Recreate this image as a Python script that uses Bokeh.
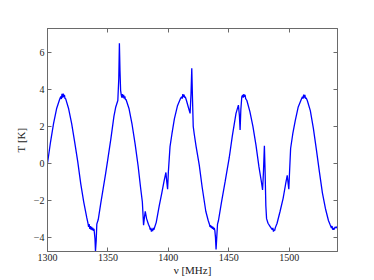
from bokeh.plotting import figure
from bokeh.models import Range1d, FixedTicker, LinearAxis, CustomJSTickFormatter
from bokeh.embed import file_html
from bokeh.resources import INLINE

# ---- data (frequency in MHz, temperature in K) ----
nu_1 = [1300, 1302.5, 1305, 1307.5, 1310, 1311, 1311.5, 1312, 1312.5, 1313, 1313.5, 1314, 1314.5,
        1315, 1317.5, 1320, 1322.5, 1325, 1327.5, 1330, 1332.5, 1333.5, 1334, 1334.5, 1335, 1335.5,
        1336, 1336.5, 1337, 1337.5, 1338, 1338.5, 1339.3, 1339.7, 1340.3, 1340.8, 1342]
t_1 = [0.0, 1.15, 2.15, 2.95, 3.45, 3.62, 3.48, 3.76, 3.55, 3.78, 3.58, 3.7, 3.5,
       3.5, 2.95, 2.15, 1.15, 0.1, -1.1, -2.1, -2.95, -3.25, -3.45, -3.3, -3.55, -3.4,
       -3.6, -3.45, -3.62, -3.5, -3.66, -3.55, -4.1, -4.77, -4.2, -3.3, -3.05]

nu_2 = [1344, 1346, 1348, 1350, 1352.5, 1355, 1356.5, 1358.2, 1359.0, 1359.5, 1360.0, 1360.5, 1361,
        1361.5, 1362, 1362.5, 1363, 1363.5, 1364, 1364.5, 1365, 1367.5, 1370, 1372.5, 1375, 1377,
        1378.5, 1379.5, 1380.3, 1380.9, 1382, 1383.5, 1384.5, 1385, 1385.5, 1386, 1386.5, 1387,
        1387.5, 1388, 1390, 1392.5, 1394.5, 1396.5, 1398, 1398.7, 1399.4]
t_2 = [-2.2, -1.4, -0.6, 0.25, 1.35, 2.55, 3.05, 3.4, 4.6, 6.5, 5.0, 3.95, 3.72,
       3.55, 3.75, 3.55, 3.7, 3.5, 3.62, 3.45, 3.45, 2.95, 2.1, 1.05, -0.15, -1.3,
       -2.1, -3.35, -2.9, -2.6, -3.0, -3.3, -3.45, -3.6, -3.5, -3.7, -3.55, -3.68,
       -3.5, -3.6, -3.2, -2.3, -1.65, -0.95, -0.5, -1.0, -1.4]

nu_3 = [1400, 1401.4, 1403, 1405, 1407.5, 1410, 1411, 1411.5, 1412, 1412.5, 1413, 1413.5, 1414,
        1415, 1416.5, 1418, 1418.8, 1419.4, 1420, 1420.6, 1421.4, 1423, 1425.6, 1428, 1431, 1433,
        1434, 1434.5, 1435, 1435.5, 1436, 1436.5, 1437, 1437.5, 1438, 1438.5, 1439, 1439.5, 1440,
        1440.7, 1441.5]
t_3 = [-0.5, 0.9, 1.6, 2.4, 3.1, 3.5, 3.6, 3.5, 3.75, 3.58, 3.72, 3.55, 3.6,
       3.4, 3.05, 2.7, 3.8, 5.15, 3.5, 2.0, 1.6, 0.9, -0.1, -1.3, -2.6, -3.1,
       -3.3, -3.45, -3.35, -3.5, -3.4, -3.55, -3.45, -3.6, -3.5, -3.65, -4.0, -4.67, -4.1,
       -3.3, -3.1]

nu_4 = [1444, 1447, 1450.4, 1453, 1456, 1458, 1458.8, 1459.4, 1460, 1460.8, 1461.5, 1462, 1462.5,
        1463, 1463.5, 1464, 1465, 1467.5, 1470, 1472.5, 1475, 1477, 1478, 1478.7, 1479.5, 1480.1,
        1480.7, 1481.3, 1482.5, 1484, 1485, 1486, 1486.5, 1487, 1487.5, 1488, 1488.5, 1490,
        1492.5, 1495, 1497, 1498.4, 1499, 1499.7]
t_4 = [-2.1, -1.0, 0.3, 1.5, 2.7, 3.15, 2.6, 1.8, 2.9, 3.6, 3.7, 3.55, 3.75,
       3.6, 3.7, 3.5, 3.4, 2.8, 2.0, 1.0, -0.2, -1.0, -1.45, -0.5, 0.95, -0.5,
       -2.3, -3.0, -3.25, -3.4, -3.5, -3.6, -3.5, -3.7, -3.6, -3.65, -3.5, -3.25,
       -2.6, -1.9, -1.15, -0.65, -1.0, -1.4]

nu_5 = [1500.3, 1501.2, 1503, 1505, 1507.5, 1510, 1511, 1511.5, 1512, 1512.5, 1513, 1513.5, 1514,
        1515, 1517.5, 1520, 1522.5, 1525, 1527.5, 1530, 1532.5, 1534, 1535, 1535.5, 1536, 1536.5,
        1537, 1538, 1539, 1540]
t_5 = [-0.5, 0.8, 1.6, 2.3, 3.05, 3.45, 3.6, 3.5, 3.72, 3.55, 3.7, 3.5, 3.55,
       3.4, 2.85, 1.9, 0.75, -0.45, -1.6, -2.45, -3.1, -3.35, -3.5, -3.4, -3.6, -3.5,
       -3.6, -3.45, -3.5, -3.4]

x_ticks = [1300, 1350, 1400, 1450, 1500]
y_ticks = [-4, -2, 0, 2, 4, 6]
x_label = "\u03bd [MHz]"
y_label = "T [K]"

nu = nu_1 + nu_2 + nu_3 + nu_4 + nu_5
temp = t_1 + t_2 + t_3 + t_4 + t_5

FONT = "Liberation Serif"
FRAME = "#6a6a6a"
TXT = "#1a1a1a"

p = figure(width=342, height=278, output_backend="svg", toolbar_location=None,
           x_range=Range1d(1300, 1540), y_range=Range1d(-4.78, 7.3),
           x_axis_location=None, y_axis_location=None,
           min_border_left=47, min_border_right=5, min_border_top=28, min_border_bottom=26)
p.background_fill_color = "white"
p.border_fill_color = "white"
p.outline_line_color = FRAME
p.outline_line_width = 1
p.xgrid.visible = False
p.ygrid.visible = False

minus_fmt = CustomJSTickFormatter(code="return String(tick).replace('-', '\u2212');")
blank_fmt = CustomJSTickFormatter(code="return '';")

def style_axis(ax, labels):
    ax.axis_line_color = FRAME
    ax.major_tick_line_color = FRAME
    ax.major_tick_in = 4
    ax.major_tick_out = 0
    ax.minor_tick_line_color = None
    ax.major_label_text_font = FONT
    ax.major_label_text_font_size = "10px" if labels else "0px"
    ax.major_label_text_color = TXT
    ax.major_label_standoff = 3 if labels else 0
    ax.axis_label_text_font = FONT
    ax.axis_label_text_font_size = "11px"
    ax.axis_label_text_font_style = "normal"
    ax.axis_label_text_color = TXT

bottom = LinearAxis(ticker=FixedTicker(ticks=x_ticks), formatter=minus_fmt, axis_label=x_label)
top = LinearAxis(ticker=FixedTicker(ticks=x_ticks), formatter=blank_fmt)
left = LinearAxis(ticker=FixedTicker(ticks=y_ticks), formatter=minus_fmt, axis_label=y_label)
right = LinearAxis(ticker=FixedTicker(ticks=y_ticks), formatter=blank_fmt)
style_axis(bottom, True)
style_axis(top, False)
style_axis(left, True)
style_axis(right, False)
bottom.major_label_standoff = 2
bottom.axis_label_standoff = 0
left.axis_label_standoff = 4
p.add_layout(bottom, "below")
p.add_layout(top, "above")
p.add_layout(left, "left")
p.add_layout(right, "right")

p.line(nu, temp, line_color="#0000ff", line_width=1.3)

open("out.html", "w").write(file_html(p, INLINE))
